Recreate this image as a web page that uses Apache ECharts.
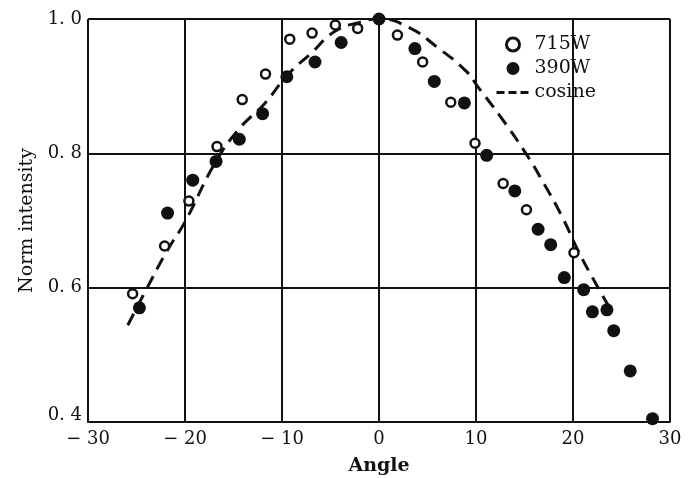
<!DOCTYPE html>
<html>
<head>
<meta charset="utf-8">
<script src="https://cdn.jsdelivr.net/npm/echarts@6/dist/echarts.min.js"></script>
<style>
  html, body { margin: 0; padding: 0; background: #fff; }
  #chart { width: 691px; height: 478px; }
</style>
</head>
<body>
<div id="chart"></div>
<script>
// values
const angle715 = [-25.4, -22.1, -19.6, -16.7, -14.1, -11.7, -9.2, -6.9, -4.5, -2.2, 1.9, 4.5, 7.4, 9.9, 12.8, 15.2, 20.1]
const norm715 = [0.591, 0.662, 0.729, 0.810, 0.880, 0.918, 0.970, 0.979, 0.991, 0.986, 0.976, 0.936, 0.876, 0.815, 0.755, 0.716, 0.652]

const angle390 = [-24.7, -21.8, -19.2, -16.8, -14.4, -12.0, -9.5, -6.6, -3.9, 0, 3.7, 5.7, 8.8, 11.1, 14.0, 16.4, 17.7, 19.1, 21.1, 22.0, 23.5, 24.2, 25.9, 28.2]
const norm390 = [0.570, 0.711, 0.760, 0.788, 0.821, 0.859, 0.914, 0.936, 0.965, 1.0, 0.956, 0.907, 0.875, 0.797, 0.744, 0.687, 0.664, 0.615, 0.597, 0.564, 0.567, 0.536, 0.476, 0.405]

const angleCos = [-25.9, -24, -21.8, -20, -17, -14.5, -11.8, -9.4, -7, -4.5, -2, 0, 3, 6, 9, 10.2, 12.5, 15, 17, 19, 20.5, 22, 23.7]
const normCos = [0.544, 0.597, 0.656, 0.698, 0.783, 0.835, 0.874, 0.917, 0.949, 0.982, 0.995, 1.0, 0.988, 0.958, 0.922, 0.899, 0.855, 0.803, 0.755, 0.702, 0.656, 0.615, 0.572]

const pairs = (xs, ys) => xs.map((x, i) => [x, ys[i]])

const serif = '"DejaVu Serif", "Liberation Serif", serif'
const ink = '#111'

const chart = echarts.init(document.getElementById('chart'))

const option = {
  backgroundColor: '#fff',
  animation: false,
  grid: { left: 88, right: 21, top: 19, bottom: 56, containLabel: false, outerBoundsMode: 'none' },
  legend: {
    orient: 'vertical',
    left: 490,
    top: 30,
    itemGap: 5,
    itemWidth: 33,
    itemHeight: 13,
    textStyle: { fontFamily: serif, fontSize: 19, color: ink },
    data: [
      { name: '715W', icon: 'circle', itemStyle: { color: '#fff', borderColor: ink, borderWidth: 3 } },
      { name: '390W', icon: 'circle' },
      {
        name: 'cosine',
        itemStyle: { color: 'rgba(0,0,0,0)', borderColor: 'rgba(0,0,0,0)', borderWidth: 0 },
        lineStyle: { color: ink, width: 3, type: [8, 4] }
      }
    ]
  },
  xAxis: {
    type: 'value',
    min: -30,
    max: 30,
    interval: 10,
    name: 'Angle',
    nameLocation: 'middle',
    nameGap: 35,
    nameTextStyle: { fontFamily: serif, fontSize: 19, fontWeight: 'bold', color: ink },
    axisLine: { lineStyle: { color: ink, width: 2 } },
    axisTick: { show: false },
    axisLabel: {
      fontFamily: serif, fontSize: 18, color: ink, margin: 8,
      formatter: v => (v < 0 ? '\u2212 ' + Math.abs(v) : '' + v)
    },
    splitLine: { lineStyle: { color: ink, width: 2 } }
  },
  yAxis: {
    type: 'value',
    min: 0.4,
    max: 1.0,
    interval: 0.2,
    name: 'Norm intensity',
    nameLocation: 'middle',
    nameGap: 50,
    nameTextStyle: { fontFamily: serif, fontSize: 19, color: ink },
    axisLine: { show: true, lineStyle: { color: ink, width: 2 } },
    axisTick: { show: false },
    axisLabel: {
      fontFamily: serif, fontSize: 18, color: ink, margin: 6,
      formatter: v => {
        const s = v.toFixed(1).replace('.', '. ')
        return v < 0.5 ? '{low|' + s + '}' : s
      },
      rich: { low: { fontFamily: serif, fontSize: 18, color: ink, padding: [0, 0, 14, 0] } }
    },
    splitLine: { lineStyle: { color: ink, width: 2 } }
  },
  series: [
    {
      name: '715W',
      type: 'scatter',
      symbol: 'circle',
      symbolSize: 9,
      itemStyle: { color: '#fff', borderColor: ink, borderWidth: 2.5, opacity: 1 },
      data: pairs(angle715, norm715),
      z: 4
    },
    {
      name: '390W',
      type: 'scatter',
      symbol: 'circle',
      symbolSize: 13,
      itemStyle: { color: ink, opacity: 1 },
      data: pairs(angle390, norm390),
      z: 3
    },
    {
      name: 'cosine',
      type: 'line',
      smooth: true,
      symbol: 'none',
      lineStyle: { color: ink, width: 3, type: [13, 8] },
      itemStyle: { color: ink },
      data: pairs(angleCos, normCos),
      z: 2
    }
  ]
}

chart.setOption(option)
</script>
</body>
</html>
